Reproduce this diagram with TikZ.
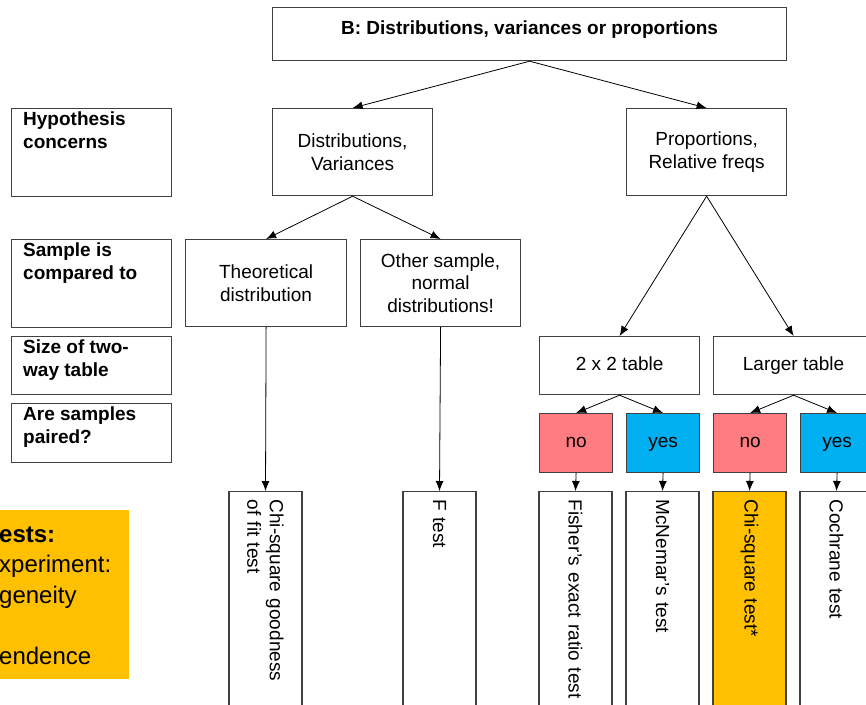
\documentclass[tikz,border=0pt]{standalone}
\usepackage{fontspec}
\setmainfont{Liberation Sans}
\usetikzlibrary{positioning, arrows.meta}
\definecolor{nored}{HTML}{FF7C80}
\definecolor{yesblue}{HTML}{00B0F0}
\definecolor{chiorange}{HTML}{FFC000}
\definecolor{edgegray}{HTML}{404040}
\newcommand{\chartfont}{\fontsize{19}{22.5}\selectfont}
\tikzstyle{block} = [rectangle, draw=edgegray, line width=1.2pt, fill=white,
                 anchor=north west, align=center, inner sep=0pt]
\tikzstyle{branch} = [draw, line width=0.8pt, -{Latex[length=10pt,width=8pt]}]
\tikzset{
	oneline/.style={text height=13.5pt, text depth=4pt},
	headtext/.style={anchor=north west, inner sep=0pt, align=left, font=\chartfont\bfseries},
	leafbox/.style={block, rotate=-90, anchor=west, minimum width=230pt,
		minimum height=73pt, text width=214pt, inner xsep=8pt, align=left},
}

\begin{document}
\begin{tikzpicture}[x=1pt, y=-1pt, font=\chartfont]
\useasboundingbox (0,0) rectangle (866,704);
\clip (0,0) rectangle (866,704);

% title
\node [block, minimum width=514pt, minimum height=53pt] at (272,7) (b) {};
\node [headtext, anchor=north] at ([yshift=-14pt]b.north) {B: Distributions, variances or proportions};

% row headers
\foreach \y/\h/\name/\txt in {108/88pt/hyp/{Hypothesis\\concerns}, 239/88pt/samp/{Sample is\\compared to},
	336/58pt/size/{Size of two-\\way table}, 403/59pt/pair/{Are samples\\paired?}} {
	\node [block, minimum width=160pt, minimum height=\h] at (11,\y) (\name) {};
	\node [headtext] at ([xshift=12pt,yshift=-4pt]\name.north west) {\txt};
}

% tree
\node [block, minimum width=160pt, minimum height=87pt] at (272,108) (dv) {Distributions,\\Variances};
\node [block, minimum width=160pt, minimum height=87pt] at (626,108) (prop) {Proportions,\\Relative freqs};
\node [block, minimum width=161pt, minimum height=87pt] at (185,239) (theo) {Theoretical\\distribution};
\node [block, minimum width=160pt, minimum height=87pt] at (360,239) (other) {Other sample,\\normal\\distributions!};
\node [block, oneline, minimum width=160pt, minimum height=58pt] at (539,336) (small) {2 x 2 table};
\node [block, oneline, minimum width=160pt, minimum height=58pt] at (713,336) (large) {Larger table};

\foreach \x/\name/\c/\txt in {539/nos/nored/no, 626/yess/yesblue/yes, 713/nol/nored/no, 800/yesl/yesblue/yes}
	\node [block, oneline, fill=\c, minimum width=73pt, minimum height=59pt] at (\x,413) (\name) {\txt};

% tests
\foreach \x/\name/\c/\txt in {265.5/gof/white/{Chi-square goodness\\of fit test}, 439.5/ftest/white/F test,
	575.5/fisher/white/Fisher's exact ratio test, 662.5/mcn/white/McNemar's test,
	749.5/chisq/chiorange/Chi-square test*, 836.5/coch/white/Cochrane test}
	\node [leafbox, fill=\c] at (\x,491) (\name) {\txt};

\path[branch] (b.south) -- (dv.north);
\path[branch] (b.south) -- (prop.north);
\path[branch] (dv.south) -- (theo.north);
\path[branch] (dv.south) -- (other.north);
\path[branch] (prop.south) -- (small.north);
\path[branch] (prop.south) -- (large.north);
\path[branch] (small.south) -- (nos.north);
\path[branch] (small.south) -- (yess.north);
\path[branch] (large.south) -- (nol.north);
\path[branch] (large.south) -- (yesl.north);
\path[branch] (theo.south) -- (gof.west);
\path[branch] (other.south) -- (ftest.west);
\path[branch] (nos.south) -- (fisher.west);
\path[branch] (yess.south) -- (mcn.west);
\path[branch] (nol.south) -- (chisq.west);
\path[branch] (yesl.south) -- (coch.west);

% note
\node [rectangle, fill=chiorange, anchor=north west, minimum width=200pt, minimum height=169pt,
	inner sep=0pt] at (-71,510) (chinote) {};
\node [anchor=base west, inner sep=0pt, align=left, font=\fontsize{24}{30.5}\selectfont]
	at (-1,664) (notetext) {\textbf{ests:}\\xperiment:\\geneity\\[30.5pt]endence};

\end{tikzpicture}
\end{document}
